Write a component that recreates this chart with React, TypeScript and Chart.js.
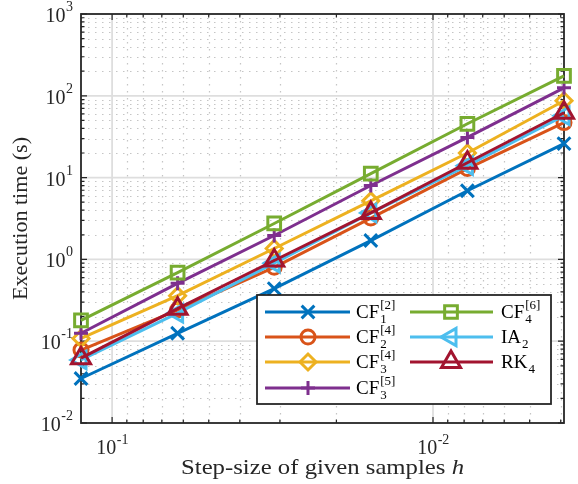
import React, { useEffect, useRef } from "react";
import { Chart, registerables } from "chart.js";
import { drawPoint } from "chart.js/helpers";

Chart.register(...registerables);

// ---------- data ----------
const stepSizes = [1 / 8, 1 / 16, 1 / 32, 1 / 64, 1 / 128, 1 / 256];
const cf1_2 = [0.035, 0.125, 0.44, 1.7, 6.9, 26];
const cf2_4 = [0.078, 0.24, 0.8, 3.2, 12.9, 47];
const cf3_4 = [0.108, 0.36, 1.36, 5.2, 20, 87];
const cf3_5 = [0.125, 0.51, 1.96, 8.0, 31, 125];
const cf4_6 = [0.18, 0.69, 2.75, 11.2, 45.5, 175];
const ia2 = [0.059, 0.22, 0.9, 3.7, 14, 57];
const rk4 = [0.062, 0.25, 0.97, 3.7, 15.2, 62];

const seriesBase = ["CF", "CF", "CF", "CF", "CF", "IA", "RK"];
const seriesSub = ["1", "2", "3", "3", "4", "2", "4"];
const seriesSup = ["[2]", "[4]", "[4]", "[5]", "[6]", "", ""];
const seriesValues = [cf1_2, cf2_4, cf3_4, cf3_5, cf4_6, ia2, rk4];

const yMajorTicks = [1e-2, 1e-1, 1, 10, 100, 1000];
const yMajorExp = ["-2", "-1", "0", "1", "2", "3"];
const xMajorTicks = [1e-1, 1e-2];
const xMajorExp = ["-1", "-2"];

const xTitle = "Step-size of given samples ";
const xTitleVar = "h";
const yTitle = "Execution time (s)";

// ---------- styles ----------
const colors = ["#0072BD", "#D95319", "#EDB120", "#7E2F8E", "#77AC30", "#4DBEEE", "#A2142F"];
const pointStyles = ["crossRot", "circle", "rectRot", "cross", "rect", "triangle", "triangle"];
const pointRadii = [9, 7, 8, 7, 9, 10, 11];
const pointRotations = [0, 0, 0, 0, 0, -90, 0];

const FONT = "'Liberation Serif', 'DejaVu Serif', serif";
const AXIS_COLOR = "#262626";

function minorValues(lo: number, hi: number): number[] {
  const out: number[] = [];
  for (let d = -4; d <= 4; d++) {
    for (let k = 2; k <= 9; k++) {
      const v = k * Math.pow(10, d);
      if (v >= lo * 0.9999 && v <= hi * 1.0001) out.push(v);
    }
  }
  return out;
}

function fillScaled(ctx: CanvasRenderingContext2D, text: string, x: number, y: number, sx: number) {
  ctx.save();
  ctx.translate(x, y);
  ctx.scale(sx, 1);
  ctx.fillText(text, 0, 0);
  ctx.restore();
}

const axesPlugin = {
  id: "matlabAxes",
  beforeDatasetsDraw(chart: any) {
    const { ctx, chartArea: a, scales } = chart;
    const xs = scales.x;
    const ys = scales.y;
    ctx.save();
    // minor grid (dotted)
    ctx.strokeStyle = "rgba(140,140,140,0.5)";
    ctx.lineWidth = 1.2;
    ctx.setLineDash([1.5, 5.5]);
    for (const v of minorValues(xs.min, xs.max)) {
      const px = Math.round(xs.getPixelForValue(v)) + 0.5;
      ctx.beginPath();
      ctx.moveTo(px, a.top);
      ctx.lineTo(px, a.bottom);
      ctx.stroke();
    }
    for (const v of minorValues(ys.min, ys.max)) {
      const py = Math.round(ys.getPixelForValue(v)) + 0.5;
      ctx.beginPath();
      ctx.moveTo(a.left, py);
      ctx.lineTo(a.right, py);
      ctx.stroke();
    }
    // major grid
    ctx.setLineDash([]);
    ctx.strokeStyle = "#dedede";
    ctx.lineWidth = 1.8;
    for (const v of xMajorTicks) {
      const px = xs.getPixelForValue(v);
      ctx.beginPath();
      ctx.moveTo(px, a.top);
      ctx.lineTo(px, a.bottom);
      ctx.stroke();
    }
    for (const v of yMajorTicks) {
      const py = ys.getPixelForValue(v);
      if (py <= a.top + 1 || py >= a.bottom - 1) continue;
      ctx.beginPath();
      ctx.moveTo(a.left, py);
      ctx.lineTo(a.right, py);
      ctx.stroke();
    }
    // ticks (inward, all four sides)
    ctx.strokeStyle = AXIS_COLOR;
    ctx.lineWidth = 1.2;
    const tickX = (v: number, len: number) => {
      const px = xs.getPixelForValue(v);
      ctx.beginPath();
      ctx.moveTo(px, a.bottom);
      ctx.lineTo(px, a.bottom - len);
      ctx.moveTo(px, a.top);
      ctx.lineTo(px, a.top + len);
      ctx.stroke();
    };
    const tickY = (v: number, len: number) => {
      const py = ys.getPixelForValue(v);
      ctx.beginPath();
      ctx.moveTo(a.left, py);
      ctx.lineTo(a.left + len, py);
      ctx.moveTo(a.right, py);
      ctx.lineTo(a.right - len, py);
      ctx.stroke();
    };
    minorValues(xs.min, xs.max).forEach((v) => tickX(v, 3.5));
    xMajorTicks.forEach((v) => tickX(v, 6));
    minorValues(ys.min, ys.max).forEach((v) => tickY(v, 3.5));
    yMajorTicks.forEach((v) => tickY(v, 6));
    // box
    ctx.lineWidth = 1.8;
    ctx.strokeRect(a.left, a.top, a.right - a.left, a.bottom - a.top);

    // tick labels
    ctx.fillStyle = AXIS_COLOR;
    ctx.textBaseline = "alphabetic";
    const big = `20px ${FONT}`;
    const small = `14px ${FONT}`;
    yMajorTicks.forEach((v, i) => {
      const py = ys.getPixelForValue(v);
      ctx.font = small;
      const sw = ctx.measureText(yMajorExp[i]).width;
      ctx.textAlign = "right";
      ctx.fillText(yMajorExp[i], 73, py - 3);
      ctx.font = big;
      ctx.fillText("10", 73 - sw - 0.5, py + 8);
    });
    xMajorTicks.forEach((v, i) => {
      const px = xs.getPixelForValue(v);
      ctx.font = big;
      const bw = ctx.measureText("10").width;
      ctx.font = small;
      const sw = ctx.measureText(xMajorExp[i]).width;
      const left = px - (bw + sw) / 2;
      ctx.textAlign = "left";
      ctx.font = big;
      ctx.fillText("10", left, 454);
      ctx.font = small;
      ctx.fillText(xMajorExp[i], left + bw + 0.5, 444);
    });

    // axis titles
    const tFont = `21px ${FONT}`;
    const tFontI = `italic 21px ${FONT}`;
    ctx.font = tFont;
    const tw = ctx.measureText(xTitle).width;
    ctx.font = tFontI;
    const hw = ctx.measureText(xTitleVar).width;
    const sx = 283 / (tw + hw);
    const cx = (a.left + a.right) / 2;
    const start = cx - ((tw + hw) * sx) / 2;
    ctx.textAlign = "left";
    ctx.font = tFont;
    fillScaled(ctx, xTitle, start, 474, sx);
    ctx.font = tFontI;
    fillScaled(ctx, xTitleVar, start + tw * sx, 474, sx);

    ctx.save();
    ctx.font = tFont;
    const yw = ctx.measureText(yTitle).width;
    const sy = 163 / yw;
    ctx.translate(21, 218.5);
    ctx.rotate(-Math.PI / 2);
    ctx.scale(sy, 1);
    ctx.textAlign = "center";
    ctx.textBaseline = "middle";
    ctx.fillText(yTitle, 0, 0);
    ctx.restore();
    ctx.restore();
  },
  afterDatasetsDraw(chart: any) {
    const { ctx } = chart;
    ctx.save();
    const bx = 257, by = 295, bw = 294, bh = 109;
    ctx.fillStyle = "#ffffff";
    ctx.fillRect(bx, by, bw, bh);
    ctx.strokeStyle = AXIS_COLOR;
    ctx.lineWidth = 1.8;
    ctx.strokeRect(bx, by, bw, bh);
    const rows = [312, 337, 362, 388];
    const cols = [
      { l0: 265, l1: 350, m: 308, t: 356 },
      { l0: 410, l1: 493, m: 451, t: 501 },
    ];
    chart.data.datasets.forEach((ds: any, i: number) => {
      const col = cols[i < 4 ? 0 : 1];
      const y = rows[i < 4 ? i : i - 4];
      ctx.strokeStyle = ds.borderColor;
      ctx.lineWidth = ds.borderWidth;
      ctx.setLineDash([]);
      ctx.beginPath();
      ctx.moveTo(col.l0, y);
      ctx.lineTo(col.l1, y);
      ctx.stroke();
      ctx.fillStyle = "rgba(0,0,0,0)";
      ctx.lineWidth = ds.pointBorderWidth;
      drawPoint(ctx, {
        pointStyle: ds.pointStyle,
        rotation: ds.pointRotation,
        radius: ds.pointRadius,
        borderWidth: ds.pointBorderWidth,
      } as any, col.m, y);
      // text
      ctx.fillStyle = "#000000";
      ctx.textAlign = "left";
      ctx.textBaseline = "alphabetic";
      ctx.font = `19px ${FONT}`;
      ctx.fillText(seriesBase[i], col.t, y + 6);
      const w = ctx.measureText(seriesBase[i]).width;
      ctx.font = `13px ${FONT}`;
      ctx.fillText(seriesSub[i], col.t + w + 1, y + 11);
      if (seriesSup[i]) ctx.fillText(seriesSup[i], col.t + w + 1, y - 3);
    });
    ctx.restore();
  },
};

export default function App() {
  const ref = useRef<HTMLCanvasElement | null>(null);
  useEffect(() => {
    if (!ref.current) return;
    const n = seriesValues.length;
    const chart = new Chart(ref.current, {
      type: "line",
      data: {
        datasets: seriesValues.map((vals, i) => ({
          label: seriesBase[i] + seriesSub[i] + seriesSup[i],
          data: stepSizes.map((h, j) => ({ x: h, y: vals[j] })),
          borderColor: colors[i],
          backgroundColor: "rgba(0,0,0,0)",
          pointBackgroundColor: "rgba(0,0,0,0)",
          pointBorderColor: colors[i],
          borderWidth: 3,
          pointBorderWidth: 3,
          pointStyle: pointStyles[i] as any,
          pointRadius: pointRadii[i],
          pointRotation: pointRotations[i],
          pointHoverRadius: pointRadii[i],
          tension: 0,
          fill: false,
          clip: false as any,
          order: n - i,
        })),
      },
      options: {
        animation: false,
        responsive: false,
        devicePixelRatio: 1,
        layout: { padding: { left: 81, top: 13, right: 7, bottom: 61 } },
        scales: {
          x: { type: "logarithmic", reverse: true, min: 1 / 256, max: 1 / 8, display: false },
          y: { type: "logarithmic", min: 0.01, max: 1000, display: false },
        },
        plugins: { legend: { display: false }, tooltip: { enabled: false } },
        events: [],
      },
      plugins: [axesPlugin],
    });
    return () => chart.destroy();
  }, []);
  return (
    <div style={{ position: "fixed", left: 0, top: 0, width: 578, height: 484, background: "#fff" }}>
      <canvas ref={ref} width={578} height={484} style={{ display: "block" }} />
    </div>
  );
}
